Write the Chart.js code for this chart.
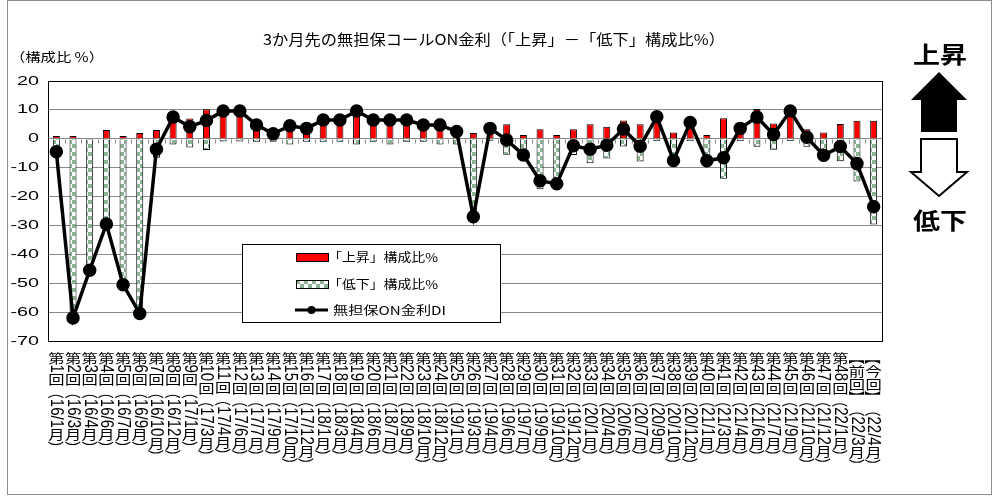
<!DOCTYPE html>
<html>
<head>
<meta charset="utf-8">
<script src="https://cdn.jsdelivr.net/npm/chart.js"></script>
<style>
  html, body { margin: 0; padding: 0; background: #fff; }
  #wrap { width: 1001px; height: 503px; }
</style>
</head>
<body>
<div id="wrap"><canvas id="chart" width="1001" height="503"></canvas></div>
<script>
// categories (survey round and month)
const categories = [
  '第1回（16/1月）', '第2回（16/3月）', '第3回（16/4月）', '第4回（16/6月）', '第5回（16/7月）',
  '第6回（16/9月）', '第7回（16/10月）', '第8回（16/12月）', '第9回（17/1月）', '第10回（17/3月）',
  '第11回（17/4月）', '第12回（17/6月）', '第13回（17/7月）', '第14回（17/9月）', '第15回（17/10月）',
  '第16回（17/12月）', '第17回（18/1月）', '第18回（18/3月）', '第19回（18/4月）', '第20回（18/6月）',
  '第21回（18/7月）', '第22回（18/9月）', '第23回（18/10月）', '第24回（18/12月）', '第25回（19/1月）',
  '第26回（19/3月）', '第27回（19/4月）', '第28回（19/6月）', '第29回（19/7月）', '第30回（19/9月）',
  '第31回（19/10月）', '第32回（19/12月）', '第33回（20/1月）', '第34回（20/4月）', '第35回（20/6月）',
  '第36回（20/7月）', '第37回（20/9月）', '第38回（20/10月）', '第39回（20/12月）', '第40回（21/1月）',
  '第41回（21/3月）', '第42回（21/4月）', '第43回（21/6月）', '第44回（21/7月）', '第45回（21/9月）',
  '第46回（21/10月）', '第47回（21/12月）', '第48回（22/1月）', '【前回】（22/3月）', '【今回】（22/4月）'
];

// 「上昇」構成比%
const upShare = [
  1, 1, 0, 3, 1, 2, 3, 9, 7, 10.2,
  10.5, 10.5, 5.5, 2.5, 6.5, 4.5, 7.5, 7.5, 11.5, 7.5,
  8.5, 7.5, 6, 7, 4.5, 2, 4.3, 5, 1.3, 3.3,
  1.3, 3.3, 5, 4.2, 6.3, 5, 8.4, 2.2, 6.5, 1.3,
  7.1, 4.4, 10.3, 5.3, 10.4, 3.3, 2.2, 5.1, 6.2, 6.2
];

// 「低下」構成比% (plotted below zero)
const downShare = [
  -5.5, -63, -45.5, -32, -51, -62, -6.6, -2, -3, -3.9,
  -0.9, -0.9, -1, -1, -2, -1, -1, -1, -2, -1,
  -2, -1, -1, -2, -2, -29, -0.7, -5.5, -7, -17.5,
  -17, -5.6, -8.5, -6.8, -2.7, -7.9, -0.8, -9.6, -0.8, -9,
  -13.8, -0.8, -2.8, -3.8, -0.8, -2.8, -7.9, -7.8, -14.8, -29.7
];

// 無担保ON金利DI
const diValues = [
  -4.5, -62, -45.5, -29.5, -50.5, -60.5, -3.6, 7.5, 4.2, 6.3,
  9.6, 9.6, 4.8, 1.7, 4.5, 3.6, 6.5, 6.5, 9.6, 6.5,
  6.5, 6.5, 4.8, 4.8, 2.5, -27, 3.6, -0.4, -5.6, -14.5,
  -15.6, -2.4, -3.6, -2.2, 3.4, -2.6, 7.6, -7.5, 5.6, -7.6,
  -6.6, 3.6, 7.5, 1.5, 9.6, 0.5, -5.7, -2.7, -8.6, -23.5
];

const yTicks = [20, 10, 0, -10, -20, -30, -40, -50, -60, -70];

const titleText = '3か月先の無担保コールON金利（「上昇」－「低下」構成比%）';
const unitText = '（構成比 %）';
const legendLabels = ['「上昇」構成比%', '「低下」構成比%', '無担保ON金利DI'];

const CJK = '"Noto Sans CJK JP", "Noto Sans", sans-serif';
const LAT = '"Liberation Sans", Arial, sans-serif';

// checker fill for the 低下 bars
function makeChecker() {
  const t = document.createElement('canvas');
  t.width = 8; t.height = 8;
  const c = t.getContext('2d');
  c.fillStyle = '#ffffff';
  c.fillRect(0, 0, 8, 8);
  c.fillStyle = '#8ab493';
  c.fillRect(0, 0, 4, 4);
  c.fillRect(4, 4, 4, 4);
  return document.getElementById('chart').getContext('2d').createPattern(t, 'repeat');
}
const checker = makeChecker();

// text squeezed/stretched horizontally to a given width
function stretchText(ctx, text, x, y, font, width, align) {
  ctx.save();
  ctx.font = font;
  const w = ctx.measureText(text).width;
  const sx = width / w;
  let left = x;
  if (align === 'center') left = x - width / 2;
  if (align === 'right') left = x - width;
  ctx.translate(left, y);
  ctx.scale(sx, 1);
  ctx.textAlign = 'left';
  ctx.textBaseline = 'middle';
  ctx.fillText(text, 0, 0);
  ctx.restore();
}

// vertical category label: CJK upright, digits rotated
function drawVertical(ctx, text, cx, y0) {
  ctx.save();
  ctx.translate(cx, 0);
  ctx.scale(1.25, 1);
  ctx.fillStyle = '#000';
  let y = y0;
  const parts = text.match(/[0-9\/]+|./g);
  for (const p of parts) {
    if (/^[0-9\/]+$/.test(p)) {
      ctx.font = '15px ' + LAT;
      const w = ctx.measureText(p).width;
      ctx.save();
      ctx.translate(0, y);
      ctx.rotate(Math.PI / 2);
      ctx.textAlign = 'left';
      ctx.textBaseline = 'middle';
      ctx.fillText(p, 0, 0);
      ctx.restore();
      y += w;
    } else if ('（）【】'.includes(p)) {
      ctx.font = '13px ' + CJK;
      ctx.save();
      ctx.translate(0, y + 6.5);
      ctx.rotate(Math.PI / 2);
      ctx.textAlign = 'center';
      ctx.textBaseline = 'middle';
      ctx.fillText(p, 0, 0);
      ctx.restore();
      y += 13;
    } else {
      ctx.font = '13px ' + CJK;
      ctx.textAlign = 'center';
      ctx.textBaseline = 'middle';
      ctx.fillText(p, 0, y + 6.5);
      y += 13;
    }
  }
  ctx.restore();
}

const decorations = {
  id: 'decorations',
  beforeDatasetsDraw(chart) {
    const ctx = chart.ctx;
    const area = chart.chartArea;
    const y0 = Math.round(chart.scales.y.getPixelForValue(0)) + 0.5;
    const step = (area.right - area.left) / categories.length;
    ctx.save();
    ctx.strokeStyle = '#8a8a8a';
    ctx.lineWidth = 1;
    ctx.beginPath();
    for (let i = 1; i < categories.length; i++) {
      const x = Math.round(area.left + i * step) + 0.5;
      ctx.moveTo(x, y0);
      ctx.lineTo(x, y0 + 4);
    }
    ctx.stroke();
    ctx.restore();
  },
  afterDatasetsDraw(chart) {
    const ctx = chart.ctx;
    ctx.save();
    // legend box
    ctx.fillStyle = '#fff';
    ctx.fillRect(242, 244, 258, 78);
    ctx.strokeStyle = '#000';
    ctx.lineWidth = 1;
    ctx.strokeRect(242.5, 244.5, 258, 78);
    ctx.fillStyle = '#ff0000';
    ctx.fillRect(296, 253, 32, 8);
    ctx.strokeRect(296.5, 253.5, 32, 8);
    ctx.fillStyle = checker;
    ctx.fillRect(296, 280, 32, 8);
    ctx.strokeRect(296.5, 280.5, 32, 8);
    ctx.lineWidth = 3;
    ctx.beginPath();
    ctx.moveTo(295, 310);
    ctx.lineTo(328, 310);
    ctx.stroke();
    ctx.fillStyle = '#000';
    ctx.beginPath();
    ctx.arc(311.5, 310, 4, 0, Math.PI * 2);
    ctx.fill();
    stretchText(ctx, legendLabels[0], 328, 257, '12px ' + CJK, 110, 'left');
    stretchText(ctx, legendLabels[1], 328, 284, '12px ' + CJK, 110, 'left');
    stretchText(ctx, legendLabels[2], 333, 310, '12px ' + CJK, 113, 'left');
    ctx.restore();
  },
  afterDraw(chart) {
    const ctx = chart.ctx;
    const area = chart.chartArea;
    const ys = chart.scales.y;
    const xs = chart.scales.x;
    ctx.save();
    // plot frame
    ctx.strokeStyle = '#000';
    ctx.lineWidth = 1;
    ctx.strokeRect(Math.round(area.left) + 0.5, Math.round(area.top) + 0.5,
      Math.round(area.right - area.left), Math.round(area.bottom - area.top));
    // outer frame
    ctx.strokeStyle = '#8c8c8c';
    ctx.strokeRect(7.5, 0.5, 984, 494);
    // y tick labels
    ctx.fillStyle = '#000';
    ctx.font = '13px ' + LAT;
    const sx = 22 / ctx.measureText('20').width;
    for (const v of yTicks) {
      const s = String(v);
      const w = ctx.measureText(s).width * sx;
      stretchText(ctx, s, 39, ys.getPixelForValue(v), '13px ' + LAT, w, 'right');
    }
    // category labels
    categories.forEach((c, i) => {
      drawVertical(ctx, c, xs.getPixelForValue(i), 351.5);
    });
    // title and unit
    stretchText(ctx, titleText, 494, 39, '15px ' + CJK, 462, 'center');
    stretchText(ctx, unitText, 10, 57, '12.5px ' + CJK, 94, 'left');
    // side arrows
    stretchText(ctx, '上昇', 940, 54, 'bold 23px ' + CJK, 54, 'center');
    stretchText(ctx, '低下', 940, 220, 'bold 23px ' + CJK, 54, 'center');
    ctx.fillStyle = '#000';
    ctx.beginPath();
    ctx.moveTo(939, 72);
    ctx.lineTo(967, 100);
    ctx.lineTo(957, 100);
    ctx.lineTo(957, 132);
    ctx.lineTo(921, 132);
    ctx.lineTo(921, 100);
    ctx.lineTo(911, 100);
    ctx.closePath();
    ctx.fill();
    ctx.fillStyle = '#fff';
    ctx.strokeStyle = '#000';
    ctx.lineWidth = 2;
    ctx.beginPath();
    ctx.moveTo(921, 139);
    ctx.lineTo(957, 139);
    ctx.lineTo(957, 172);
    ctx.lineTo(967, 172);
    ctx.lineTo(939, 196);
    ctx.lineTo(911, 172);
    ctx.lineTo(921, 172);
    ctx.closePath();
    ctx.fill();
    ctx.stroke();
    ctx.restore();
  }
};

new Chart(document.getElementById('chart'), {
  type: 'bar',
  data: {
    labels: categories,
    datasets: [
      {
        label: legendLabels[0],
        data: upShare,
        stack: 'share',
        backgroundColor: '#ff0000',
        borderColor: '#000',
        borderWidth: 1,
        barPercentage: 0.42,
        categoryPercentage: 1,
        order: 2
      },
      {
        label: legendLabels[1],
        data: downShare,
        stack: 'share',
        backgroundColor: checker,
        borderColor: '#000',
        borderWidth: 1,
        barPercentage: 0.42,
        categoryPercentage: 1,
        order: 2
      },
      {
        type: 'line',
        label: legendLabels[2],
        data: diValues,
        stack: 'di',
        borderColor: '#000',
        borderWidth: 3.5,
        pointRadius: 5,
        pointBackgroundColor: '#000',
        pointBorderColor: '#000',
        tension: 0,
        order: 1
      }
    ]
  },
  options: {
    responsive: false,
    animation: false,
    devicePixelRatio: 1,
    layout: { padding: { left: 48, right: 119, top: 81, bottom: 162 } },
    plugins: {
      legend: { display: false },
      tooltip: { enabled: false },
      title: { display: false }
    },
    scales: {
      x: { stacked: true, display: false, offset: true },
      y: {
        stacked: true,
        min: -70,
        max: 20,
        ticks: { display: false, stepSize: 10 },
        grid: { color: '#8a8a8a', drawTicks: false },
        border: { display: false }
      }
    }
  },
  plugins: [decorations]
});
</script>
</body>
</html>
